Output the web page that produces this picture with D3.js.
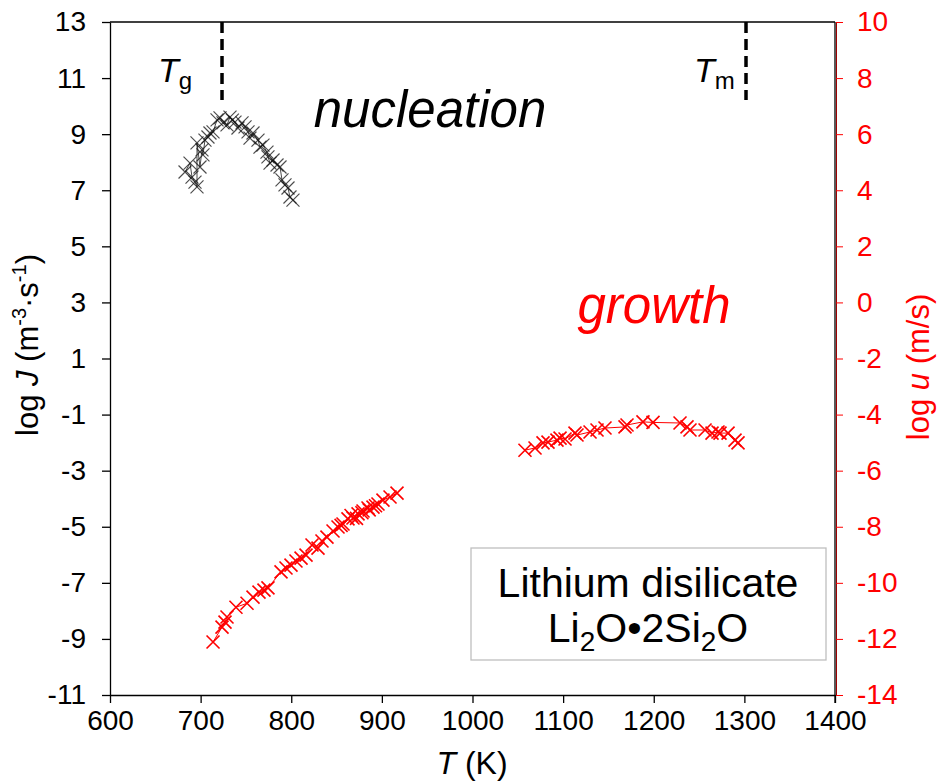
<!DOCTYPE html>
<html><head><meta charset="utf-8">
<script src="https://cdn.jsdelivr.net/npm/d3@7"></script>
<style>body{margin:0;background:#fff}svg{display:block;font-family:"Liberation Sans",Arial,sans-serif}</style>
</head><body><svg id="c" width="939" height="782"></svg>
<script>
// ---- data ----
const xTicks = [600,700,800,900,1000,1100,1200,1300,1400];
const leftTicks = [13,11,9,7,5,3,1,-1,-3,-5,-7,-9,-11];
const rightTicks = [10,8,6,4,2,0,-2,-4,-6,-8,-10,-12,-14];
const Tg = 723.6, Tm = 1301.8;
// nucleation: [T (K), log J]
const nucleation = [
[682.8,7.65],[688.3,7.97],[690.5,7.47],[693.8,7.29],[696.0,7.12],[699.3,7.83],[696.0,8.69],[701.5,8.44],
[702.6,8.26],[704.8,8.79],[708.1,8.90],[710.3,9.04],[713.7,9.08],[718.1,9.51],[721.4,9.58],[724.7,9.40],
[729.1,9.33],[732.4,9.61],[735.0,9.50],[737.9,9.43],[741.2,9.22],[745.7,9.40],[749.0,9.26],[752.3,9.08],
[754.5,8.86],[757.8,9.04],[763.3,8.79],[765.5,8.54],[768.8,8.61],[773.2,8.36],[774.3,8.19],[776.6,7.97],
[779.9,8.08],[784.3,7.90],[787.6,7.83],[789.8,7.37],[793.1,7.19],[796.4,7.08],[798.6,6.76],[801.9,6.65]];
// growth: [T (K), log u]
const growthLow = [
[713.7,-12.11],[723.6,-11.58],[726.9,-11.40],[729.1,-11.22],[739.0,-10.87],[751.2,-10.73],[757.8,-10.51],
[764.4,-10.33],[769.9,-10.26],[774.3,-10.18],[788.7,-9.61],[794.2,-9.47],[799.7,-9.37],[805.2,-9.22],
[810.8,-9.12],[816.3,-9.01],[822.9,-8.65],[829.5,-8.76],[833.9,-8.51],[839.4,-8.37],[846.1,-8.15],
[851.6,-8.01],[855.0,-7.95],[857.1,-7.90],[862.6,-7.72],[866.0,-7.60],[868.1,-7.69],[872.0,-7.70],
[873.7,-7.54],[878.0,-7.50],[879.2,-7.44],[884.7,-7.33],[886.0,-7.40],[890.2,-7.30],[893.0,-7.25],
[895.7,-7.19],[901.2,-7.05],[909.0,-6.94],[916.7,-6.80]];
const growthHigh = [
[1057.9,-5.27],[1069.0,-5.19],[1077.8,-5.01],[1083.3,-4.98],[1093.2,-4.91],[1096.6,-4.84],[1102.1,-4.87],
[1113.1,-4.66],[1115.3,-4.73],[1129.7,-4.62],[1137.4,-4.55],[1146.2,-4.48],[1168.3,-4.44],[1170.5,-4.37],
[1188.1,-4.26],[1199.2,-4.28],[1229.0,-4.30],[1236.7,-4.44],[1240.0,-4.55],[1256.6,-4.55],[1264.3,-4.66],
[1270.9,-4.62],[1273.1,-4.66],[1282.0,-4.66],[1289.7,-4.91],[1293.0,-5.01]];

// ---- layout ----
const L=110,R=835,T0=22,B=695;
const FONT = "Liberation Sans, Arial, sans-serif";
const svg = d3.select("#c");
const x = d3.scaleLinear([600,1400],[L,R]);
const yL = d3.scaleLinear([-11,13],[B,T0]);
const yR = d3.scaleLinear([-14,10],[B,T0]);
const red = "#ff0000";
const fmt = d => String(d);

// frame top
svg.append("line").attr("x1",L).attr("x2",R).attr("y1",T0).attr("y2",T0).attr("stroke","#000").attr("stroke-width",1.3);

// bottom axis
const gx = svg.append("g").attr("transform",`translate(0,${B})`)
  .call(d3.axisBottom(x).tickValues(xTicks).tickFormat(fmt).tickSize(8).tickSizeOuter(0).tickPadding(7));
gx.selectAll("text").attr("font-size",28).attr("fill","#000").attr("font-family",FONT);
gx.select(".domain").attr("stroke","#000").attr("stroke-width",1.3);
gx.selectAll(".tick line").attr("stroke","#000").attr("stroke-width",1.3);

// left axis
const gl = svg.append("g").attr("transform",`translate(${L},0)`)
  .call(d3.axisLeft(yL).tickValues(leftTicks).tickFormat(fmt).tickSize(8).tickSizeOuter(0).tickPadding(16));
gl.selectAll("text").attr("font-size",28).attr("fill","#000").attr("font-family",FONT);
gl.select(".domain").attr("stroke","#000").attr("stroke-width",1.3);
gl.selectAll(".tick line").attr("stroke","#000").attr("stroke-width",1.3);

// right axis
svg.append("line").attr("x1",R).attr("x2",R).attr("y1",T0).attr("y2",B+8).attr("stroke","#000").attr("stroke-width",1.3);
const gr = svg.append("g").attr("transform",`translate(${R+1},0)`)
  .call(d3.axisRight(yR).tickValues(rightTicks).tickFormat(fmt).tickSize(7).tickSizeOuter(0).tickPadding(14));
gr.selectAll("text").attr("font-size",28).attr("fill",red).attr("font-family",FONT);
gr.select(".domain").attr("stroke","#a00000").attr("stroke-width",1);
gr.selectAll(".tick line").attr("stroke",red).attr("stroke-width",1);

// Tg / Tm dashed lines
[Tg,Tm].forEach(t=>{
  svg.append("line").attr("x1",x(t)).attr("x2",x(t)).attr("y1",T0).attr("y2",100)
    .attr("stroke","#000").attr("stroke-width",3.5).attr("stroke-dasharray","11,6");
});

// marker helper
function markers(data, ys, color, sw, op, s){
  const sorted = data.slice().sort((a,b)=>a[0]-b[0]);
  svg.append("path").datum(sorted)
    .attr("d", d3.line().x(d=>x(d[0])).y(d=>ys(d[1])))
    .attr("fill","none").attr("stroke",color).attr("stroke-width",1).attr("opacity",op);
  svg.append("g").selectAll("path").data(data).join("path")
    .attr("transform",d=>`translate(${x(d[0])},${ys(d[1])})`)
    .attr("d",`M${-s},${-s}L${s},${s}M${-s},${s}L${s},${-s}`)
    .attr("stroke",color).attr("stroke-width",sw).attr("fill","none").attr("opacity",op);
}
markers(nucleation, yL, "#111", 1.2, 0.75, 6.5);
markers(growthLow, yR, red, 1.6, 1, 6.5);
markers(growthHigh, yR, red, 1.6, 1, 6.5);

// annotations
const tg = svg.append("text").attr("x",158).attr("y",82).attr("font-size",34).attr("fill","#000");
tg.append("tspan").attr("font-style","italic").text("T");
tg.append("tspan").attr("font-size",24).attr("dy",7).text("g");
const tm = svg.append("text").attr("x",694).attr("y",82).attr("font-size",34).attr("fill","#000");
tm.append("tspan").attr("font-style","italic").text("T");
tm.append("tspan").attr("font-size",24).attr("dy",7).text("m");
svg.append("text").attr("x",430).attr("y",127).attr("text-anchor","middle").attr("font-size",51)
  .attr("font-style","italic").attr("fill","#000").text("nucleation");
svg.append("text").attr("x",654).attr("y",323).attr("text-anchor","middle").attr("font-size",51)
  .attr("font-style","italic").attr("fill",red).text("growth");

// legend box
svg.append("rect").attr("x",471).attr("y",548).attr("width",355).attr("height",112)
  .attr("fill","#fff").attr("stroke","#bfbfbf").attr("stroke-width",1.3);
svg.append("text").attr("x",648).attr("y",597).attr("text-anchor","middle").attr("font-size",41).attr("fill","#000").text("Lithium disilicate");
const f = svg.append("text").attr("x",648).attr("y",642).attr("text-anchor","middle").attr("font-size",41).attr("fill","#000");
f.append("tspan").text("Li");
f.append("tspan").attr("font-size",28).attr("dy",9).text("2");
f.append("tspan").attr("dy",-9).text("O•2Si");
f.append("tspan").attr("font-size",28).attr("dy",9).text("2");
f.append("tspan").attr("dy",-9).text("O");

// axis titles
const xt = svg.append("text").attr("x",472).attr("y",774).attr("text-anchor","middle").attr("font-size",32).attr("fill","#000");
xt.append("tspan").attr("font-style","italic").text("T");
xt.append("tspan").text(" (K)");

const ylt = svg.append("text").attr("transform","translate(38,345) rotate(-90)").attr("text-anchor","middle").attr("font-size",31).attr("fill","#000");
ylt.append("tspan").text("log ");
ylt.append("tspan").attr("font-style","italic").text("J");
ylt.append("tspan").text(" (m");
ylt.append("tspan").attr("font-size",20).attr("dy",-12).text("-3");
ylt.append("tspan").attr("dy",12).text("·s");
ylt.append("tspan").attr("font-size",20).attr("dy",-12).text("-1");
ylt.append("tspan").attr("dy",12).text(")");

const yrt = svg.append("text").attr("transform","translate(929,367) rotate(-90)").attr("text-anchor","middle").attr("font-size",31).attr("fill",red);
yrt.append("tspan").text("log ");
yrt.append("tspan").attr("font-style","italic").text("u");
yrt.append("tspan").text(" (m/s)");
</script></body></html>
